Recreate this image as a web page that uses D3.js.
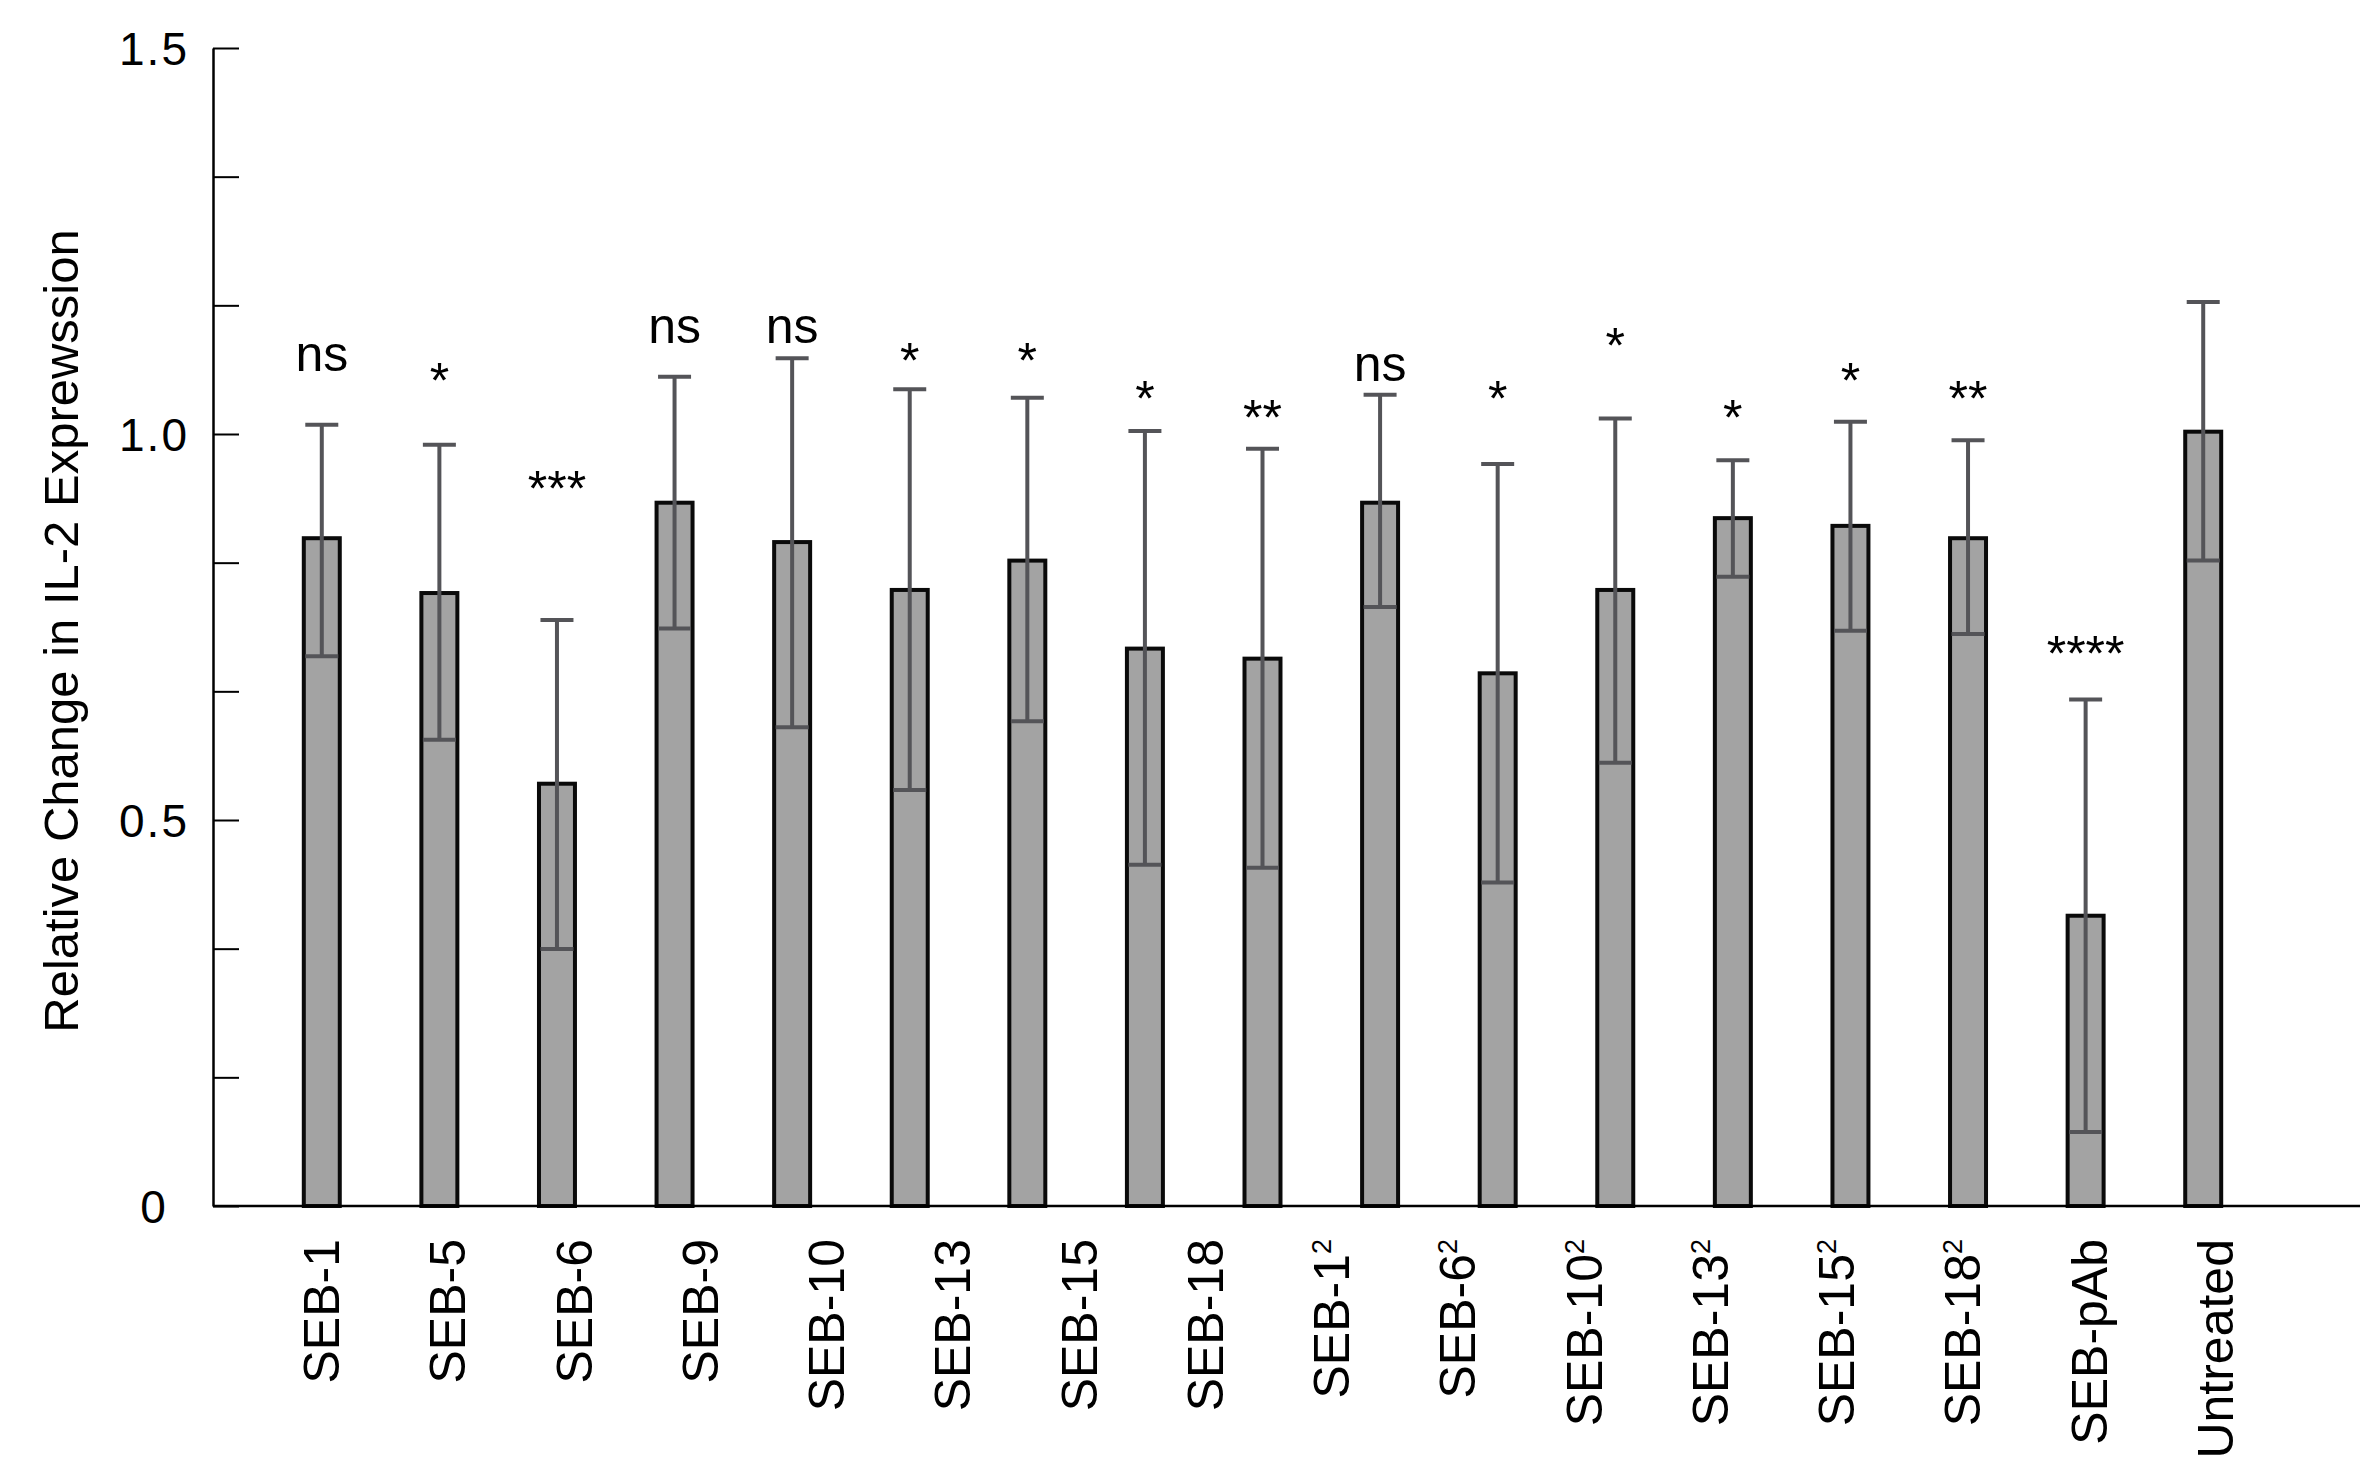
<!DOCTYPE html>
<html>
<head>
<meta charset="utf-8">
<script src="https://cdn.jsdelivr.net/npm/d3@7"></script>
<style>
  html, body { margin: 0; padding: 0; background: #fff; }
  svg { display: block; }
  text { font-family: "Liberation Sans", Arial, sans-serif; fill: #000; }
</style>
</head>
<body>
<script>
// ---- data ----
const xLabels = ["SEB-1","SEB-5","SEB-6","SEB-9","SEB-10","SEB-13","SEB-15","SEB-18",
                 "SEB-1²","SEB-6²","SEB-10²","SEB-13²","SEB-15²","SEB-18²","SEB-pAb","Untreated"];
const means   = [0.865, 0.794, 0.547, 0.911, 0.860, 0.798, 0.836, 0.722, 0.709, 0.911, 0.690, 0.798, 0.891, 0.881, 0.865, 0.376, 1.003];
const errHigh = [1.012, 0.986, 0.759, 1.074, 1.098, 1.058, 1.047, 1.004, 0.981, 1.051, 0.961, 1.020, 0.966, 1.016, 0.992, 0.656, 1.171];
const errLow  = [0.712, 0.604, 0.333, 0.748, 0.620, 0.539, 0.628, 0.442, 0.438, 0.776, 0.419, 0.574, 0.815, 0.745, 0.741, 0.096, 0.836];
const sigLabels = ["ns","*","***","ns","ns","*","*","*","**","ns","*","*","*","*","**","****",""];
const sigLevel  = [1.082, 1.047, 0.907, 1.118, 1.118, 1.073, 1.073, 1.023, 0.999, 1.069, 1.023, 1.092, 0.999, 1.046, 1.023, 0.693, null];
const yTickValues = [0, 1/6, 2/6, 3/6, 4/6, 5/6, 1, 7/6, 8/6, 9/6];
const yLabelValues = [0, 0.5, 1.0, 1.5];
const yLabelTexts  = ["0", "0.5", "1.0", "1.5"];
const yTitle = "Relative Change in IL-2 Exprewssion";

// ---- layout ----
const W = 2375, H = 1473;
const axisX = 213, axisRight = 2360;
const svg = d3.select("body").append("svg").attr("width", W).attr("height", H);
svg.append("rect").attr("width", W).attr("height", H).attr("fill", "#fff");

const y = d3.scaleLinear().domain([0, 1.5]).range([1206, 48]);
const xBar = d3.scaleBand().domain(means.map((d, i) => i)).range([245, 2280])
  .paddingInner(0.694).paddingOuter(0.5);
const xLab = d3.scalePoint().domain(xLabels).range([321, 2215]).padding(0);

// bars
const bw = xBar.bandwidth();
svg.append("g").selectAll("rect").data(means).join("rect")
  .attr("x", (d, i) => xBar(i))
  .attr("y", d => y(d))
  .attr("width", bw)
  .attr("height", d => y(0) - y(d))
  .attr("fill", "#a3a3a3")
  .attr("stroke", "#0a0a0a")
  .attr("stroke-width", 4);

// error bars
const eg = svg.append("g").attr("stroke", "#545458").attr("stroke-width", 4);
means.forEach((m, i) => {
  const cx = xBar(i) + bw / 2;
  const capHalf = 16.5;
  eg.append("line").attr("x1", cx).attr("x2", cx).attr("y1", y(errLow[i])).attr("y2", y(errHigh[i]));
  eg.append("line").attr("x1", cx - capHalf).attr("x2", cx + capHalf).attr("y1", y(errHigh[i])).attr("y2", y(errHigh[i]));
  eg.append("line").attr("x1", cx - capHalf).attr("x2", cx + capHalf).attr("y1", y(errLow[i])).attr("y2", y(errLow[i]));
});

// significance annotations
const sigIdx = sigLabels.map((d, i) => i).filter(i => sigLabels[i] !== "");
svg.append("g").selectAll("text").data(sigIdx).join("text")
  .attr("x", i => xBar(i) + bw / 2)
  .attr("y", i => y(sigLevel[i]))
  .attr("text-anchor", "middle")
  .attr("font-size", 50)
  .text(i => sigLabels[i]);

// y axis (ticks pointing inward/right)
const yAxis = d3.axisRight(y).tickValues(yTickValues).tickSize(26).tickSizeOuter(0).tickFormat("");
const ga = svg.append("g").attr("transform", `translate(${axisX},0)`).call(yAxis);
ga.select(".domain").attr("stroke", "#000").attr("stroke-width", 2.5);
ga.selectAll(".tick line").attr("stroke", "#000").attr("stroke-width", 2);

svg.append("g").selectAll("text").data(yLabelValues).join("text")
  .attr("x", 154)
  .attr("y", d => y(d))
  .attr("dy", "0.36em")
  .attr("text-anchor", "middle")
  .attr("font-size", 46)
  .attr("letter-spacing", 2)
  .text((d, i) => yLabelTexts[i]);

// x axis line
svg.append("line").attr("x1", axisX).attr("x2", axisRight)
  .attr("y1", y(0)).attr("y2", y(0))
  .attr("stroke", "#000").attr("stroke-width", 2.5);

// x labels (rotated)
const xl = svg.append("g").selectAll("text").data(xLabels).join("text")
  .attr("transform", d => `translate(${xLab(d)},1239) rotate(-90)`)
  .attr("text-anchor", "end")
  .attr("dy", "0.36em")
  .attr("font-size", 50);
xl.each(function(d) {
  const t = d3.select(this);
  if (d.endsWith("²")) {
    t.append("tspan").text(d.slice(0, -1));
    t.append("tspan").attr("font-size", 27).attr("dy", -18).text("2");
  } else {
    t.text(d);
  }
});

// y title
svg.append("text")
  .attr("transform", "translate(78,631) rotate(-90)")
  .attr("text-anchor", "middle")
  .attr("font-size", 49)
  .text(yTitle);
</script>
</body>
</html>
